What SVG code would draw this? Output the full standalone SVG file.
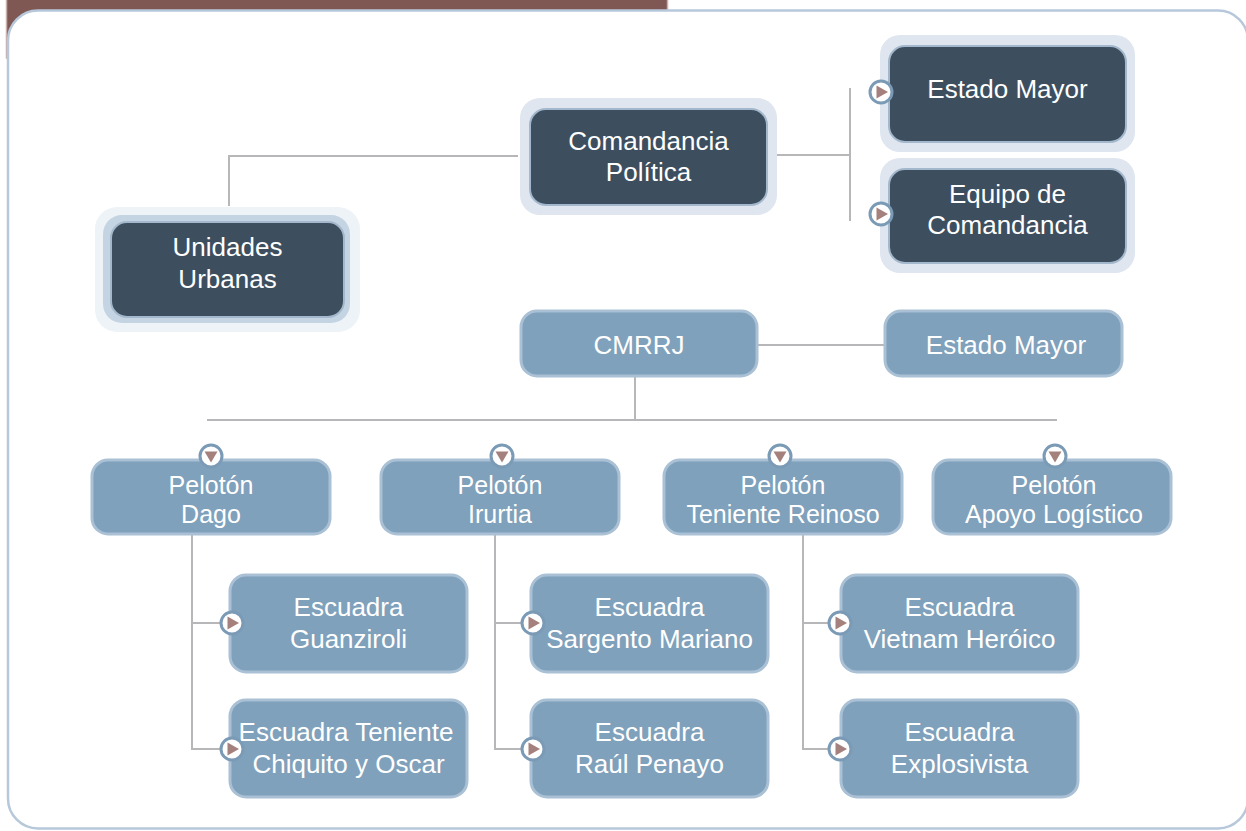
<svg xmlns="http://www.w3.org/2000/svg" xmlns:xlink="http://www.w3.org/1999/xlink" width="1246" height="831" viewBox="0 0 1246 831">
<style>
.t{font-family:"Liberation Sans",Arial,Helvetica,sans-serif;font-size:26px;fill:#ffffff;text-anchor:middle}
.p{font-size:25px}
.halo{fill:#dfe6ef}
.dark{fill:#3d4f5f;stroke:#a3b8cc;stroke-width:2}
.light{fill:#7fa1bb;stroke:#a9c0d5;stroke-width:3}
.conn{fill:none;stroke:#b7b7ba;stroke-width:2}
</style>
<defs>
<g id="icoR"><circle r="11" fill="#ffffff" stroke="#7b9ab6" stroke-width="3"/><polygon points="-4.5,-6.5 7,0 -4.5,6.5" fill="#a4817c"/></g>
<g id="icoD"><circle r="11" fill="#ffffff" stroke="#7b9ab6" stroke-width="3"/><polygon points="-6.5,-4.5 6.5,-4.5 0,6.5" fill="#a4817c"/></g>
</defs>
<rect x="0" y="0" width="1246" height="831" fill="#ffffff"/>
<g id="header"><rect x="6.5" y="-2" width="661" height="60" fill="#7f5753" stroke="#c9b0ad" stroke-width="1.5"/></g>
<g id="panel"><rect x="8" y="10.5" width="1240" height="818" rx="30" fill="#ffffff" stroke="#b7c8db" stroke-width="2.5"/></g>
<g id="connectors">
<polyline class="conn" points="518,156 229,156 229,206"/>
<line class="conn" x1="777" y1="155" x2="850" y2="155"/>
<line class="conn" x1="850" y1="88" x2="850" y2="221"/>
<line class="conn" x1="757" y1="345" x2="885" y2="345"/>
<line class="conn" x1="635" y1="376" x2="635" y2="420"/>
<line class="conn" x1="207" y1="420" x2="1057" y2="420"/>
<polyline class="conn" points="192,534 192,749 221,749"/>
<line class="conn" x1="192" y1="623" x2="221" y2="623"/>
<polyline class="conn" points="495,534 495,749 522,749"/>
<line class="conn" x1="495" y1="623" x2="522" y2="623"/>
<polyline class="conn" points="803,534 803,749 830,749"/>
<line class="conn" x1="803" y1="623" x2="830" y2="623"/>
</g>
<g id="comandancia">
<rect class="halo" x="520" y="98" width="257" height="117" rx="20"/>
<rect class="dark" x="530" y="109" width="237" height="96" rx="16"/>
<text class="t" x="648.5" y="150">Comandancia</text>
<text class="t" x="648.5" y="181">Política</text>
</g>
<g id="estado-mayor-1">
<rect class="halo" x="880" y="35" width="255" height="117" rx="20"/>
<rect class="dark" x="889" y="46" width="237" height="96" rx="16"/>
<text class="t" x="1007.5" y="98">Estado Mayor</text>
<use xlink:href="#icoR" href="#icoR" x="881" y="92"/>
</g>
<g id="equipo">
<rect class="halo" x="880" y="158" width="255" height="115" rx="20"/>
<rect class="dark" x="889" y="169" width="237" height="94" rx="16"/>
<text class="t" x="1007.5" y="203">Equipo de</text>
<text class="t" x="1007.5" y="234">Comandancia</text>
<use xlink:href="#icoR" href="#icoR" x="881" y="214"/>
</g>
<g id="unidades">
<rect x="95" y="207" width="265" height="125" rx="22" fill="#eef3f7"/>
<rect x="103" y="215" width="247" height="108" rx="19" fill="#c5d4e2"/>
<rect class="dark" x="111" y="222" width="233" height="95" rx="16"/>
<text class="t" x="227.5" y="256">Unidades</text>
<text class="t" x="227.5" y="288">Urbanas</text>
</g>
<g id="cmrrj">
<rect class="light" x="521" y="311" width="236" height="65" rx="16"/>
<text class="t" x="639" y="354">CMRRJ</text>
</g>
<g id="estado-mayor-2">
<rect class="light" x="885" y="311" width="237" height="65" rx="16"/>
<text class="t" x="1006" y="354">Estado Mayor</text>
</g>
<g id="peloton-dago">
<rect class="light" x="92" y="460" width="238" height="74" rx="16"/>
<text class="t p" x="211" y="494">Pelotón</text>
<text class="t p" x="211" y="523">Dago</text>
<use xlink:href="#icoD" href="#icoD" x="211" y="456"/>
</g>
<g id="peloton-irurtia">
<rect class="light" x="381" y="460" width="238" height="74" rx="16"/>
<text class="t p" x="500" y="494">Pelotón</text>
<text class="t p" x="500" y="523">Irurtia</text>
<use xlink:href="#icoD" href="#icoD" x="502" y="456"/>
</g>
<g id="peloton-reinoso">
<rect class="light" x="664" y="460" width="238" height="74" rx="16"/>
<text class="t p" x="783" y="494">Pelotón</text>
<text class="t p" x="783" y="523">Teniente Reinoso</text>
<use xlink:href="#icoD" href="#icoD" x="780" y="456"/>
</g>
<g id="peloton-apoyo">
<rect class="light" x="933" y="460" width="238" height="74" rx="16"/>
<text class="t p" x="1054" y="494">Pelotón</text>
<text class="t p" x="1054" y="523">Apoyo Logístico</text>
<use xlink:href="#icoD" href="#icoD" x="1055" y="456"/>
</g>
<g id="esc-guanziroli">
<rect class="light" x="230" y="575" width="237" height="97" rx="16"/>
<text class="t" x="348.5" y="616">Escuadra</text>
<text class="t" x="348.5" y="648">Guanziroli</text>
<use xlink:href="#icoR" href="#icoR" x="232" y="623"/>
</g>
<g id="esc-chiquito">
<rect class="light" x="230" y="700" width="237" height="97" rx="16"/>
<text class="t" x="346" y="741">Escuadra Teniente</text>
<text class="t" x="348.5" y="773">Chiquito y Oscar</text>
<use xlink:href="#icoR" href="#icoR" x="232" y="749"/>
</g>
<g id="esc-mariano">
<rect class="light" x="531" y="575" width="237" height="97" rx="16"/>
<text class="t" x="649.5" y="616">Escuadra</text>
<text class="t" x="649.5" y="648">Sargento Mariano</text>
<use xlink:href="#icoR" href="#icoR" x="533" y="623"/>
</g>
<g id="esc-penayo">
<rect class="light" x="531" y="700" width="237" height="97" rx="16"/>
<text class="t" x="649.5" y="741">Escuadra</text>
<text class="t" x="649.5" y="773">Raúl Penayo</text>
<use xlink:href="#icoR" href="#icoR" x="533" y="749"/>
</g>
<g id="esc-vietnam">
<rect class="light" x="841" y="575" width="237" height="97" rx="16"/>
<text class="t" x="959.5" y="616">Escuadra</text>
<text class="t" x="959.5" y="648">Vietnam Heróico</text>
<use xlink:href="#icoR" href="#icoR" x="840" y="623"/>
</g>
<g id="esc-explosivista">
<rect class="light" x="841" y="700" width="237" height="97" rx="16"/>
<text class="t" x="959.5" y="741">Escuadra</text>
<text class="t" x="959.5" y="773">Explosivista</text>
<use xlink:href="#icoR" href="#icoR" x="840" y="749"/>
</g>
</svg>
